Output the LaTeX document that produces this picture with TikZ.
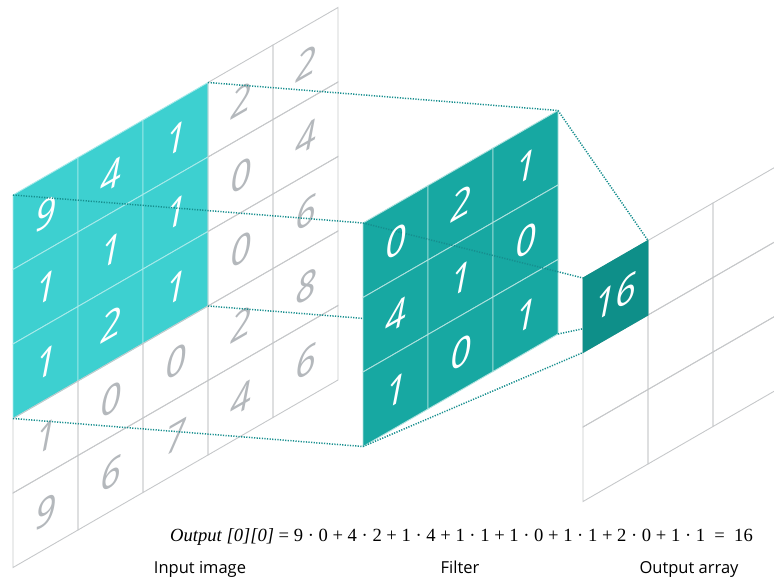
\documentclass[tikz,border=0pt]{standalone}
\usepackage{fontspec}
\usepackage{xcolor}
\usepackage{tikz}
\usetikzlibrary{calc}
\newfontfamily\digitfont{Open Sans}
\newfontfamily\labelfont{Open Sans}
\newfontfamily\eqfont{Liberation Serif}
\definecolor{cnnIn}{HTML}{3DD0D0}
\definecolor{cnnFilt}{HTML}{17A8A2}
\definecolor{cnnOut}{HTML}{0E8F89}
\definecolor{cnnLink}{HTML}{168E8E}
\definecolor{cnnGrid}{HTML}{C6C8CA}
\definecolor{cnnMute}{HTML}{B4B8BC}
\tikzset{
  gridcell/.style={draw=cnnGrid, line width=0.9pt},
  incell/.style={fill=cnnIn, draw=white!55!cnnIn, line width=0.9pt},
  filtcell/.style={fill=cnnFilt, draw=white!65!cnnFilt, line width=0.9pt},
  outcell/.style={fill=cnnOut, draw=cnnOut, line width=0.9pt},
  digit/.style={font=\digitfont\itshape\fontsize{38}{38}\selectfont, text=white, yslant=0.577, inner sep=0pt},
  dotlink/.style={cnnLink, line width=1.5pt, dash pattern=on 1.2pt off 1.4pt},
  caption/.style={font=\labelfont\fontsize{16.5}{16.5}\selectfont, anchor=base},
  equation/.style={font=\eqfont\fontsize{18.6}{18.6}\selectfont, anchor=base west, inner sep=0pt}
}

\begin{document}
\begin{tikzpicture}[x=1pt, y=-1pt]
  \useasboundingbox (0,0) rectangle (774,578);
  \clip (0,0) rectangle (774,578);
  % input image
  \foreach \row [count=\j from 0] in {{9,4,1,2,2},{1,1,1,0,4},{1,2,1,0,6},{1,0,0,2,8},{9,6,7,4,6}}{
    \foreach \d [count=\i from 0] in \row {
      \pgfmathtruncatemacro\inside{and(\i<3,\j<3)}
      \ifnum\inside=1
        \draw[incell] ({13+65*\i},{195-37.5*\i+74.5*\j}) -- ++(65,-37.5) -- ++(0,74.5) -- ++(-65,37.5) -- cycle;
        \def\dcol{white}
      \else
        \draw[gridcell] ({13+65*\i},{195-37.5*\i+74.5*\j}) -- ++(65,-37.5) -- ++(0,74.5) -- ++(-65,37.5) -- cycle;
        \def\dcol{cnnMute}
      \fi
      \node[digit, text=\dcol] (in-\i-\j) at ({13+65*(\i+0.5)},{195-37.5*(\i+0.5)+74.5*(\j+0.5)}) {\d};
    }
  }
  \coordinate (inTL) at (13,195);
  \coordinate (inTR) at (208,82.5);
  \coordinate (inBR) at (208,306);
  \coordinate (inBL) at (13,418.5);
  \coordinate (fTL) at (363,223);
  \coordinate (fTR) at (558,110.5);
  \coordinate (fBR) at (558,334);
  \coordinate (fBL) at (363,446.5);
  \coordinate (oTL) at (583,278);
  \coordinate (oTR) at (648,240.5);
  \coordinate (oBR) at (648,315);
  \coordinate (oBL) at (583,352.5);
  \foreach \a/\b in {inTL/fTL,inTR/fTR,inBR/fBR,inBL/fBL}{\draw[dotlink] (\a) -- (\b);}
  % filter
  \foreach \row [count=\j from 0] in {{0,2,1},{4,1,0},{1,0,1}}{
    \foreach \d [count=\i from 0] in \row {
      \draw[filtcell] ({363+65*\i},{223-37.5*\i+74.5*\j}) -- ++(65,-37.5) -- ++(0,74.5) -- ++(-65,37.5) -- cycle;
    }
  }
  \foreach \a/\b in {fTL/oTL,fTR/oTR,fBR/oBR,fBL/oBL}{\draw[dotlink] (\a) -- (\b);}
  \foreach \row [count=\j from 0] in {{0,2,1},{4,1,0},{1,0,1}}{
    \foreach \d [count=\i from 0] in \row {
      \node[digit] (f-\i-\j) at ({363+65*(\i+0.5)},{223-37.5*(\i+0.5)+74.5*(\j+0.5)}) {\d};
    }
  }
  % output array
  \foreach \i in {0,1,2}{
    \foreach \j in {0,1,2}{
      \draw[gridcell] ({583+65*\i},{278-37.5*\i+74.5*\j}) -- ++(65,-37.5) -- ++(0,74.5) -- ++(-65,37.5) -- cycle;
    }
  }
  \draw[outcell] (oTL) -- (oTR) -- (oBR) -- (oBL) -- cycle;
  \node[digit] (out-0-0) at (615.5,296.5) {16};
  % equation and captions
  \node[equation] (eq) at (170,541) {\itshape Output [0][0]\upshape{} = 9 · 0 + 4 · 2 + 1 · 4 + 1 · 1 + 1 · 0 + 1 · 1 + 2 · 0 + 1 · 1 \ = \ 16};
  \node[caption] (lblIn) at (200,573) {Input image};
  \node[caption] (lblFilt) at (460,573) {Filter};
  \node[caption] (lblOut) at (689,573) {Output array};
\end{tikzpicture}
\end{document}
